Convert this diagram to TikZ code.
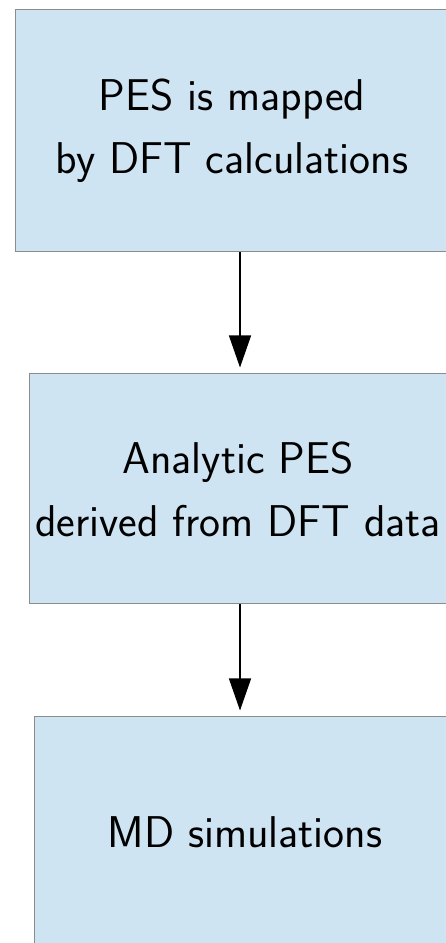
\documentclass[tikz,border=0pt]{standalone}
\usetikzlibrary{arrows.meta}
\definecolor{boxfill}{RGB}{207,228,242}
\definecolor{boxline}{RGB}{140,140,140}
\begin{document}
\begin{tikzpicture}[x=1pt,y=1pt,
  stagebox/.style={rectangle, draw=boxline, fill=boxfill, line width=1pt, inner sep=0pt,
    align=center, font=\fontsize{44.5}{63}\selectfont\sffamily},
  flow/.style={line width=1.2pt, -{Triangle[length=32pt,width=22pt]}, shorten >=6pt}]
\useasboundingbox (0,0) rectangle (446,943);
\begin{scope}
\clip (0,0) rectangle (446,943);
\node[stagebox, minimum width=434pt, minimum height=242pt] (b1) at (232,812) {PES is mapped\\by DFT calculations};
\node[stagebox, minimum width=418pt, minimum height=230pt] (b2) at (238,454) {Analytic PES\\derived from DFT data};
\node[stagebox, minimum width=422pt, minimum height=230pt] (b3) at (245,111) {MD simulations};
\end{scope}
\coordinate (ax) at (240,0);
\draw[flow] (b1.south -| ax) -- (b2.north -| ax);
\draw[flow] (b2.south -| ax) -- (b3.north -| ax);
\end{tikzpicture}
\end{document}
